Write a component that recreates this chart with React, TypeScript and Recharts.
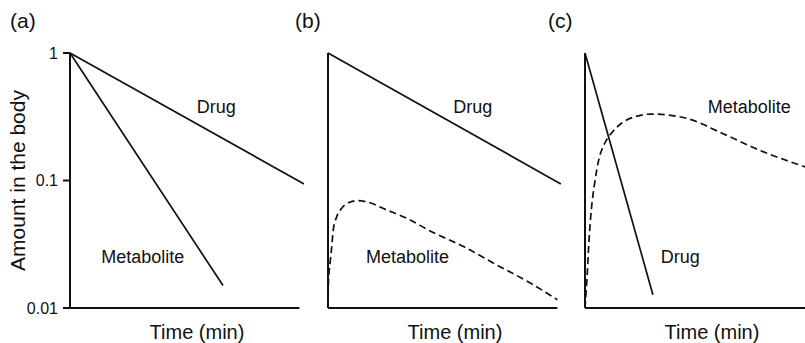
import { LineChart, Line, XAxis, YAxis, ReferenceLine, ReferenceDot } from 'recharts'

interface Pt {
  t: number
  v: number
}

interface TextMark {
  text: string
  t: number
  v: number
}

// time runs 0–100 min on the drawn axis; the drug lines may run a little past it
const X_DOMAIN: [number, number] = [0, 102]
const AXIS_END = 100
const Y_DOMAIN: [number, number] = [0.01, 1]
const Y_TICKS = [0.01, 0.1, 1]
const PANEL_LETTERS = ['(a)', '(b)', '(c)']

// (a) metabolite cleared faster than the drug
const drugA: Pt[] = [
  { t: 0, v: 1 },
  { t: 102, v: 0.094 },
]
const metaboliteA: Pt[] = [
  { t: 0, v: 1 },
  { t: 66.7, v: 0.015 },
]
const labelsA: TextMark[] = [
  { text: 'Drug', t: 63.8, v: 0.38 },
  { text: 'Metabolite', t: 31.7, v: 0.0253 },
]

// (b) metabolite formed from the drug, low level
const drugB: Pt[] = [
  { t: 0, v: 1 },
  { t: 101.5, v: 0.094 },
]
const metaboliteB: Pt[] = [
  { t: 0, v: 0.01 },
  { t: 0.2, v: 0.016 },
  { t: 0.9, v: 0.0225 },
  { t: 1.6, v: 0.03 },
  { t: 2.3, v: 0.041 },
  { t: 3.8, v: 0.052 },
  { t: 6, v: 0.0605 },
  { t: 8.9, v: 0.067 },
  { t: 13.2, v: 0.0695 },
  { t: 16.9, v: 0.068 },
  { t: 25.6, v: 0.0587 },
  { t: 34.4, v: 0.0505 },
  { t: 44.5, v: 0.0402 },
  { t: 59.1, v: 0.0303 },
  { t: 73.7, v: 0.0217 },
  { t: 88.2, v: 0.0157 },
  { t: 100, v: 0.0116 },
]
const labelsB: TextMark[] = [
  { text: 'Drug', t: 63.1, v: 0.38 },
  { text: 'Metabolite', t: 34.7, v: 0.0253 },
]

// (c) drug cleared fast, metabolite lingers
const drugC: Pt[] = [
  { t: 0, v: 1 },
  { t: 29.6, v: 0.0127 },
]
const metaboliteC: Pt[] = [
  { t: 0, v: 0.01 },
  { t: 1, v: 0.0187 },
  { t: 1.75, v: 0.034 },
  { t: 2.75, v: 0.0587 },
  { t: 4.2, v: 0.095 },
  { t: 6, v: 0.145 },
  { t: 8.6, v: 0.196 },
  { t: 11.5, v: 0.235 },
  { t: 15.9, v: 0.281 },
  { t: 21.7, v: 0.316 },
  { t: 29, v: 0.332 },
  { t: 36.2, v: 0.326 },
  { t: 45, v: 0.305 },
  { t: 59.7, v: 0.235 },
  { t: 76, v: 0.173 },
  { t: 96.5, v: 0.127 },
]
const labelsC: TextMark[] = [
  { text: 'Metabolite', t: 71.6, v: 0.38 },
  { text: 'Drug', t: 41.5, v: 0.0253 },
]

const FONT = '"Liberation Sans", Arial, Helvetica, sans-serif'
const INK = '#111'

interface PanelProps {
  left: number
  axisWidth: number
  drug: Pt[]
  metabolite: Pt[]
  labels: TextMark[]
  withTickText?: boolean
  dashedMetabolite?: boolean
}

function Panel({ left, axisWidth, drug, metabolite, labels, withTickText, dashedMetabolite }: PanelProps) {
  return (
    <div style={{ position: 'absolute', left, top: 0 }}>
      <LineChart
        width={axisWidth + 234}
        height={343}
        margin={{ top: 53, right: 0, bottom: 0, left: 0 }}
        style={{ fontFamily: FONT }}
      >
        <XAxis
          dataKey="t"
          type="number"
          domain={X_DOMAIN}
          height={35}
          axisLine={false}
          tickLine={false}
          tick={false}
          label={{ value: 'Time (min)', position: 'insideBottom', offset: 4, dx: 10, fontSize: 20, fill: INK }}
        />
        <YAxis
          dataKey="v"
          type="number"
          scale="log"
          domain={Y_DOMAIN}
          ticks={Y_TICKS}
          width={axisWidth}
          tickSize={7}
          tickMargin={5}
          stroke={INK}
          strokeWidth={2}
          tick={withTickText ? { fill: INK, fontSize: 16 } : false}
          label={
            withTickText
              ? { value: 'Amount in the body', angle: -90, position: 'center', dx: -17, fontSize: 21, fill: INK }
              : undefined
          }
        />
        <ReferenceLine
          segment={[
            { x: 0, y: Y_DOMAIN[0] },
            { x: AXIS_END, y: Y_DOMAIN[0] },
          ]}
          stroke={INK}
          strokeWidth={2}
        />
        <Line
          data={drug}
          dataKey="v"
          type="linear"
          stroke={INK}
          strokeWidth={1.7}
          dot={false}
          isAnimationActive={false}
        />
        <Line
          data={metabolite}
          dataKey="v"
          type={dashedMetabolite ? 'monotone' : 'linear'}
          stroke={INK}
          strokeWidth={1.7}
          strokeDasharray={dashedMetabolite ? '7 4' : undefined}
          dot={false}
          isAnimationActive={false}
        />
        {labels.map((l) => (
          <ReferenceDot
            key={l.text}
            x={l.t}
            y={l.v}
            r={0}
            fill="none"
            stroke="none"
            label={{ value: l.text, position: 'center', fontSize: 18, fill: INK }}
          />
        ))}
      </LineChart>
    </div>
  )
}

export default function App() {
  const letterX = [10, 295, 548]
  return (
    <div
      style={{
        position: 'absolute',
        left: 0,
        top: 0,
        width: 805,
        height: 343,
        overflow: 'hidden',
        background: '#fff',
      }}
    >
      <Panel left={0} axisWidth={70} drug={drugA} metabolite={metaboliteA} labels={labelsA} withTickText />
      <Panel left={308} axisWidth={20} drug={drugB} metabolite={metaboliteB} labels={labelsB} dashedMetabolite />
      <Panel left={565} axisWidth={20} drug={drugC} metabolite={metaboliteC} labels={labelsC} dashedMetabolite />
      <svg width={805} height={343} style={{ position: 'absolute', left: 0, top: 0, pointerEvents: 'none' }}>
        {PANEL_LETTERS.map((s, i) => (
          <text key={s} x={letterX[i]} y={28} fontSize={21} fill={INK} fontFamily={FONT}>
            {s}
          </text>
        ))}
      </svg>
    </div>
  )
}
